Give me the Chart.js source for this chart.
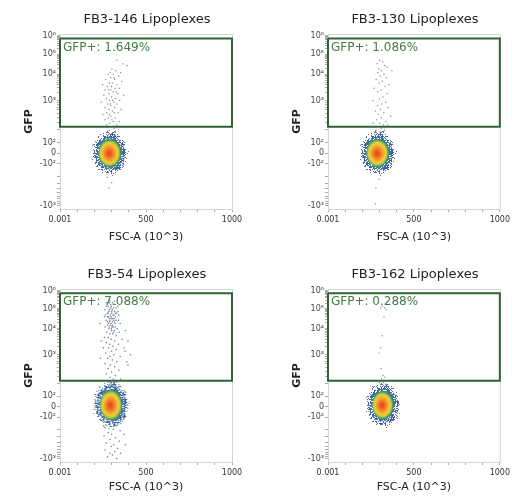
<!DOCTYPE html>
<html>
<head>
<meta charset="utf-8">
<script src="https://cdn.jsdelivr.net/npm/chart.js@4.4.0/dist/chart.umd.min.js"></script>
<style>
  body { margin: 0; background: #fff; }
  #wrap { position: relative; width: 513px; height: 499px; overflow: hidden; }
  #wrap canvas { position: absolute; }
</style>
</head>
<body>
<div id="wrap">
  <canvas id="c146" width="256" height="249" style="left:0;top:0"></canvas>
  <canvas id="c130" width="245" height="249" style="left:268px;top:0"></canvas>
  <canvas id="c54" width="256" height="245" style="left:0;top:254px"></canvas>
  <canvas id="c162" width="245" height="245" style="left:268px;top:254px"></canvas>
</div>
<script>
// ---- data (FSC-A in 10^3, GFP in display channel 0-100) ----
const titles = ['FB3-146 Lipoplexes', 'FB3-130 Lipoplexes', 'FB3-54 Lipoplexes', 'FB3-162 Lipoplexes'];
const gfpPct = ['1.649', '1.086', '7.088', '0.288'];

const gateX = [0, 1000];
const gateY = [47, 97.5];

const xTickVals = [0, 500, 1000];
const xTickText = ['0.001', '500', '1000'];
const yTickVals = [99, 88.5, 77, 62, 38, 32, 26, 2];
const yTickText = ['10⁶', '10⁵', '10⁴', '10³', '10²', '0', '-10²', '-10³'];

// main population centre (FSC, GFP) per sample
const blobCenters = [[291, 32], [291, 32], [298, 33], [320, 33]];

// events inside / near the GFP+ gate
const gate146 = [[331,85],[366,83],[390,82],[302,80],[325,79],[352,78],[280,77],[310,77],[341,76],[295,75],
  [318,74],[266,74],[359,73],[287,72],[305,72],[330,71],[248,71],[275,70],[320,69],[345,69],[296,68],[262,68],
  [310,67],[284,66],[336,66],[370,65],[255,65],[300,64],[322,63],[270,63],[288,62],[347,62],[312,61],[240,61],
  [278,60],[330,60],[296,59],[262,58],[318,58],[355,57],[285,57],[305,56],[272,55],[338,55],[250,54],[296,53],
  [320,52],[280,52],[262,51],[310,50],[345,50],[290,49],[272,48],[330,48],[300,47],[315,46],[286,45],[300,43],
  [322,42],[292,40],[292,78],[314,75],[300,70],[282,68],[326,67],[306,62],[292,60],[316,55],[302,51],[286,54]];
const gate130 = [[300,85],[318,84],[285,83],[330,82],[345,81],[296,80],[310,79],[372,79],[290,78],[326,77],
  [305,76],[340,75],[280,74],[316,73],[298,72],[355,71],[332,70],[268,69],[310,68],[290,67],[345,66],[320,64],
  [300,63],[262,62],[336,61],[312,60],[290,59],[350,58],[305,57],[276,56],[325,55],[292,54],[365,53],[310,52],
  [283,51],[336,50],[300,49],[262,49],[322,48],[348,48],[290,47],[310,46],[330,45],[280,45],[302,44]];
const gate54 = [[268,92],[290,93],[305,92],[322,91],[280,90],[298,90],[312,89],[336,90],[262,88],[287,88],
  [301,87],[318,87],[330,86],[274,86],[292,85],[308,85],[342,85],[258,84],[282,84],[298,83],[315,83],[327,82],
  [268,82],[288,81],[304,81],[320,80],[350,80],[276,79],[294,79],[310,78],[262,78],[332,77],[284,77],[300,76],
  [316,76],[272,75],[345,75],[290,74],[306,74],[296,89],[284,87],[310,91],[276,84],[300,86],[322,84],[290,82],
  [312,82],[282,80],[306,79],[298,77],[326,73],[258,72],[280,72],[298,71],[318,70],[362,71],[270,69],[290,68],
  [340,68],[308,67],[252,66],[282,66],[326,65],[300,64],[378,64],[266,63],[314,62],[290,61],[350,61],[276,60],
  [304,59],[330,58],[262,57],[292,56],[318,55],[395,56],[280,54],[342,53],[300,52],[270,51],[322,50],[290,49],
  [310,48],[352,48],[282,47],[300,46],[318,45],[292,44],[380,76],[395,70],[372,66],[410,62],[388,58],[232,80],
  [240,70],[236,60],[294,91],[316,93],[326,89],[286,92],[304,88],[270,90],[338,87],[280,86],[314,85],[296,84],
  [324,86],[264,85],[306,83],[288,83],[318,81],[296,80],[276,81],[340,82],[302,78],[286,78],[322,78],[312,75]];
const gate162 = [[318,90],[330,89],[306,89],[338,88],[326,84],[316,73],[306,66],[298,63],[310,54],[320,50],
  [330,49],[312,48],[340,47],[322,46],[300,46],[335,45]];

// events below the main population
const tail146 = [[275,18],[300,15],[285,12]];
const tail130 = [[298,17],[279,12],[276,3]];
const tail54 = [[290,22],[330,21],[262,20],[310,19],[350,18],[280,17],[300,16],[372,16],[256,15],[322,14],
  [290,13],[345,12],[270,11],[312,10],[380,10],[298,9],[334,8],[262,7],[318,6],[290,5],[352,5],[305,4],
  [276,3],[330,2]];
const tail162 = [];

// ---- layout / style ----
const panels = [
  { id: 'c146', gate: gate146, tail: tail146, padRight: 24, top: 34, xh: 40, titleY: 20, blobW: 38, blobH: 46, dot: 'rgba(110,118,135,0.8)' },
  { id: 'c130', gate: gate130, tail: tail130, padRight: 13, top: 34, xh: 40, titleY: 20, blobW: 38, blobH: 46, dot: 'rgba(110,118,135,0.8)' },
  { id: 'c54', gate: gate54, tail: tail54, padRight: 24, top: 35, xh: 37, titleY: 21, blobW: 38, blobH: 50, dot: 'rgba(70,84,120,0.8)' },
  { id: 'c162', gate: gate162, tail: tail162, padRight: 13, top: 35, xh: 37, titleY: 21, blobW: 36, blobH: 46, dot: 'rgba(110,118,135,0.8)' },
];

Chart.defaults.font.family = '"DejaVu Sans", sans-serif';

// density blob: radial heat gradient, outer ring thinned into speckle
function makeBlob(w, h) {
  const c = document.createElement('canvas'); c.width = w; c.height = h;
  const g = c.getContext('2d');
  g.save(); g.translate(w / 2, h / 2); g.scale(w / 2, h / 2);
  const grad = g.createRadialGradient(-0.06, 0.02, 0, 0, 0, 1);
  grad.addColorStop(0, '#e4431c');
  grad.addColorStop(0.13, '#ec6222');
  grad.addColorStop(0.28, '#f29a2b');
  grad.addColorStop(0.42, '#f2cc38');
  grad.addColorStop(0.5, '#b7c945');
  grad.addColorStop(0.57, '#4f9a64');
  grad.addColorStop(0.64, '#2f6f97');
  grad.addColorStop(0.76, '#2d4d94');
  grad.addColorStop(1, '#5a6690');
  g.fillStyle = grad; g.beginPath(); g.arc(0, 0, 1, 0, Math.PI * 2); g.fill();
  g.restore();
  const img = g.getImageData(0, 0, w, h), d = img.data;
  for (let j = 0; j < h; j++) for (let i = 0; i < w; i++) {
    const dx = (i + 0.5 - w / 2) / (w / 2), dy = (j + 0.5 - h / 2) / (h / 2);
    const r = Math.sqrt(dx * dx + dy * dy);
    if (r <= 0.6) continue;
    const hsh = (((i * 73856093) ^ (j * 19349663) ^ (i * j * 83492791)) >>> 0) % 1000 / 1000;
    const keep = Math.max(0, 1 - (r - 0.6) / 0.4) * 0.85;
    d[(j * w + i) * 4 + 3] = hsh < keep ? 235 : 0;
  }
  g.putImageData(img, 0, 0);
  return c;
}

// minor log ticks inside each decade of the biex axis
function minorTicks() {
  const out = [];
  [[38, 62], [62, 77], [77, 88.5], [88.5, 99]].forEach(([lo, hi]) => {
    for (let k = 2; k <= 9; k++) out.push(lo + (hi - lo) * Math.log10(k));
  });
  for (let k = 2; k <= 9; k++) out.push(26 - 24 * Math.log10(k));
  return out;
}

const panelText = {
  id: 'panelText',
  beforeDatasetsDraw(chart) {
    const { ctx, chartArea: a } = chart;
    ctx.save(); ctx.strokeStyle = '#d4d4d4'; ctx.lineWidth = 1;
    ctx.strokeRect(a.left + 0.5, a.top + 0.5, a.right - a.left, a.bottom - a.top);
    ctx.restore();
  },
  afterDatasetsDraw(chart, args, opts) {
    const { ctx, chartArea: a, scales: { x, y } } = chart;
    ctx.save();
    ctx.fillStyle = '#1e1e1e'; ctx.font = '13px "DejaVu Sans"';
    ctx.textAlign = 'center'; ctx.textBaseline = 'middle';
    ctx.fillText(opts.title, (a.left + a.right) / 2 + 1, opts.titleY);
    ctx.fillStyle = '#457a48'; ctx.font = '12px "DejaVu Sans"';
    ctx.textAlign = 'left'; ctx.textBaseline = 'top';
    ctx.fillText(`GFP+: ${opts.pct}%`, x.getPixelForValue(gateX[0]) + 3, y.getPixelForValue(gateY[1]) + 3);
    ctx.restore();
  }
};

const toXY = arr => arr.map(([x, y]) => ({ x, y }));

panels.forEach((p, i) => {
  const rect = [[gateX[0], gateY[1]], [gateX[1], gateY[1]], [gateX[1], gateY[0]], [gateX[0], gateY[0]], [gateX[0], gateY[1]]];
  new Chart(document.getElementById(p.id), {
    type: 'scatter',
    data: {
      datasets: [
        { data: toXY([blobCenters[i]]), pointStyle: makeBlob(p.blobW, p.blobH), pointRadius: 1 },
        { data: toXY(p.gate), pointRadius: 0.75, borderWidth: 0, backgroundColor: p.dot },
        { data: toXY(p.tail), pointRadius: 0.75, borderWidth: 0, backgroundColor: p.dot },
        { type: 'line', data: toXY(rect), showLine: true, borderColor: '#2f6237', borderWidth: 2,
          pointRadius: 0, fill: false, tension: 0, clip: false },
      ]
    },
    options: {
      responsive: false, animation: false, events: [],
      layout: { padding: { left: 0, right: p.padRight, top: p.top, bottom: 0 } },
      plugins: { legend: { display: false }, tooltip: { enabled: false },
        panelText: { title: titles[i], pct: gfpPct[i], titleY: p.titleY } },
      scales: {
        x: {
          type: 'linear', min: 0, max: 1000,
          afterFit: s => { s.height = p.xh; },
          border: { color: '#b0b0b0' },
          grid: { drawOnChartArea: false, drawTicks: true, tickLength: 3, color: '#aaa' },
          ticks: { stepSize: 100, autoSkip: false, maxRotation: 0, padding: 3, color: '#333', font: { size: 8 },
            callback: v => { const k = xTickVals.indexOf(v); return k >= 0 ? xTickText[k] : ''; } },
          title: { display: true, text: 'FSC-A (10^3)', color: '#222', font: { size: 11 }, padding: { top: 0, bottom: 5 } }
        },
        y: {
          type: 'linear', min: 0, max: 100,
          afterFit: s => { s.width = 60; },
          afterBuildTicks: s => { s.ticks = [...yTickVals, ...minorTicks()].sort((a, b) => a - b).map(v => ({ value: v })); },
          border: { color: '#b0b0b0' },
          grid: { drawOnChartArea: false, drawTicks: true, tickLength: 3, color: '#aaa' },
          ticks: { autoSkip: false, padding: 1, color: '#444', font: { size: 8 },
            callback: v => { const k = yTickVals.indexOf(v); return k >= 0 ? yTickText[k] : ''; } },
          title: { display: true, text: 'GFP', color: '#222', font: { size: 11, weight: 'bold' }, padding: { top: 23, bottom: 0 } }
        }
      }
    },
    plugins: [panelText]
  });
});
</script>
</body>
</html>
